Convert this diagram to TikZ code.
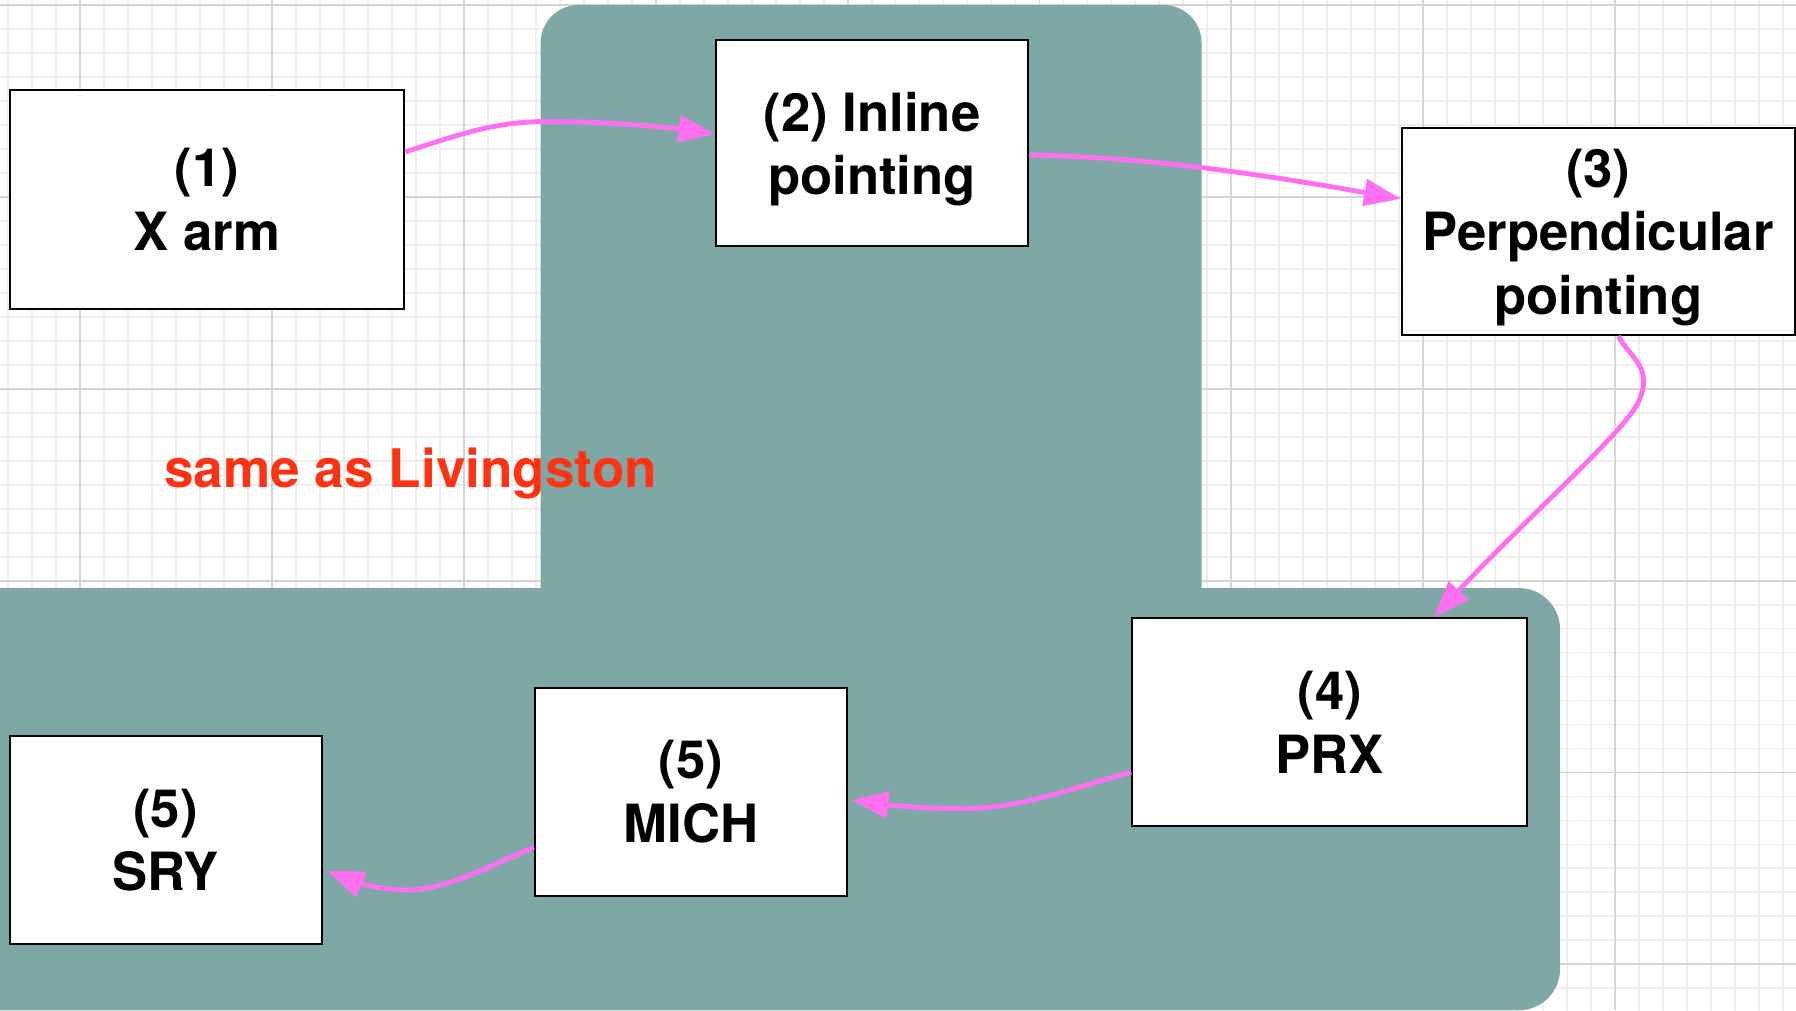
\documentclass[tikz,border=0pt]{standalone}
\usepackage{fontspec}
\setmainfont{TeX Gyre Heros}
\usetikzlibrary{arrows.meta,calc}
\definecolor{tealbg}{RGB}{127,167,165}
\definecolor{pinkarrow}{RGB}{255,112,240}
\definecolor{redtext}{RGB}{255,51,20}
\definecolor{gridminor}{RGB}{238,238,238}
\definecolor{gridmajor}{RGB}{213,213,213}
\newcommand{\nodepth}[1]{\raisebox{0pt}[\height][0pt]{#1}}
\tikzset{
 box/.style={draw=black, line width=0.9pt, fill=white, inner sep=0pt, align=center, font=\fontsize{23pt}{27.6pt}\selectfont\bfseries},
 bigbox/.style={box, minimum width=172.5pt, minimum height=90.8pt},
 smallbox/.style={box, minimum width=136.2pt, minimum height=90.8pt},
 conn/.style={draw=pinkarrow, line width=2.1pt, -{Triangle[length=16pt,width=11.5pt]}},
 minorline/.style={draw=gridminor, line width=0.8pt},
 majorline/.style={draw=gridmajor, line width=0.8pt},
}
\begin{document}
\begin{tikzpicture}[x=0.5pt,y=-0.5pt]
\useasboundingbox (0,0) rectangle (1568,882);
\fill[white] (0,0) rectangle (1568,882);
\clip (0,0) rectangle (1568,882);
% grid
\foreach \i in {-4,...,72} {\draw[minorline] ({70+20.9375*\i},0) -- ({70+20.9375*\i},882);}
\foreach \i in {0,...,42} {\draw[minorline] (0,{4.4+20.9375*\i}) -- (1568,{4.4+20.9375*\i});}
\foreach \i in {0,...,9} {\draw[majorline] ({70+167.5*\i},0) -- ({70+167.5*\i},882);}
\foreach \i in {0,...,5} {\draw[majorline] (0,{4.4+167.5*\i}) -- (1568,{4.4+167.5*\i});}
% teal background
\fill[tealbg, rounded corners=16.5pt] (472,4.4) rectangle (1049,600);
\fill[tealbg, rounded corners=18pt] (-60,513.4) rectangle (1362,882);
% nodes
\node[box, minimum width=172.3pt, minimum height=95.7pt] (b1) at (180.7,174.3) {(1)\\X arm};
\node[smallbox, minimum height=90pt] (b2) at (761.3,125) {(2) Inline\\\nodepth{pointing}};
\node[bigbox, minimum width=171.6pt, minimum height=90.3pt] (b3) at (1395.4,202.2) {(3)\\Perpendicular\\\nodepth{pointing}};
\node[bigbox] (b4) at (1161,630.6) {(4)\\PRX};
\node[smallbox] (b5) at (603.2,691.2) {(5)\\MICH};
\node[smallbox] (b6) at (144.6,733.4) {(5)\\SRY};
\node[text=redtext, font=\fontsize{23.2pt}{27.6pt}\selectfont\bfseries, anchor=base, inner sep=0pt] (note) at (358.5,425.8) {same as Livingston};
% connectors
\draw[conn] ($(b1.north east)!0.284!(b1.south east)$) .. controls (400,118) and (430,106) .. (480,106) .. controls (530,106) and (590,112) .. ($(b2.north west)!0.456!(b2.south west)$);
\draw[conn] ($(b2.north east)!0.557!(b2.south east)$) .. controls (1000,137) and (1100,152) .. ($(b3.north west)!0.343!(b3.south west)$);
\draw[conn] ($(b3.south west)!0.551!(b3.south east)$) .. controls (1422,312) and (1445,320) .. (1430,352) .. controls (1415,380) and (1330,455) .. ($(b4.north west)!0.762!(b4.north east)$);
\draw[conn] ($(b4.north west)!0.737!(b4.south west)$) .. controls (930,690) and (890,706) .. (840,706) .. controls (800,706) and (770,702) .. ($(b5.north east)!0.54!(b5.south east)+(1.7pt,0)$);
\draw[conn] ($(b5.north west)!0.763!(b5.south west)$) .. controls (430,755) and (390,777) .. (355,777) .. controls (330,777) and (305,768) .. ($(b6.north east)!0.646!(b6.south east)+(2pt,0)$);
\end{tikzpicture}
\end{document}
